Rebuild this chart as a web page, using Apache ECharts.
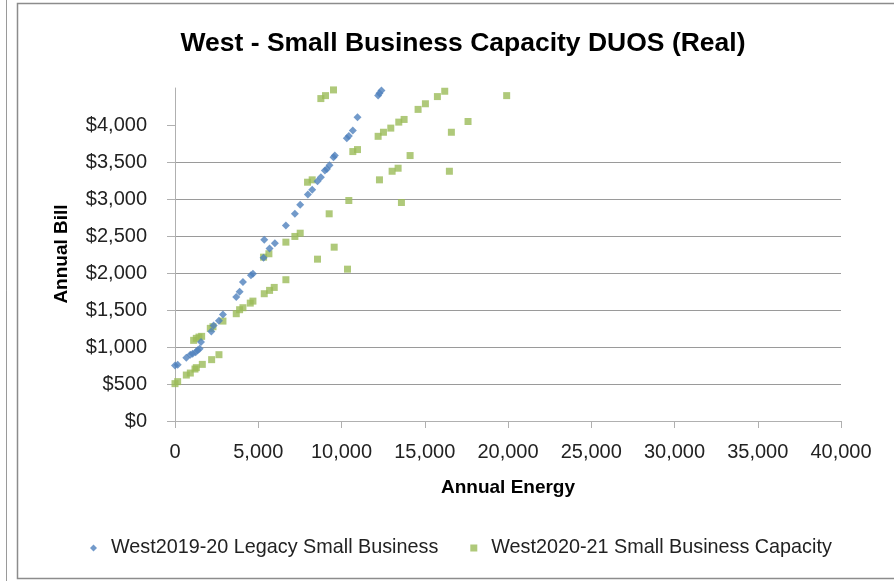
<!DOCTYPE html>
<html><head><meta charset="utf-8">
<script src="https://cdn.jsdelivr.net/npm/echarts@6/dist/echarts.min.js"></script>
<style>html,body{margin:0;padding:0;background:#fff}#c{width:894px;height:581px}</style>
</head><body><div id="c"></div>
<script>
var titleText = 'West - Small Business Capacity DUOS (Real)';
var seriesNames = ['West2019-20 Legacy Small Business', 'West2020-21 Small Business Capacity'];
var yTicks = [0, 500, 1000, 1500, 2000, 2500, 3000, 3500, 4000];
var xTicks = [0, 5000, 10000, 15000, 20000, 25000, 30000, 35000, 40000];

var legacyEnergy = [0,160,680,920,1060,1240,1360,1480,1560,2180,2320,2640,2880,3680,3880,4080,4560,4680,5320,5360,5680,6000,6660,7200,7520,7980,8240,8560,8760,9000,9120,9280,9520,9600,10320,10440,10680,10960,12200,12280,12400,12520];
var legacyBill   = [750,760,856,896,910,930,955,977,1067,1211,1292,1355,1440,1674,1747,1877,1971,1990,2206,2449,2331,2403,2642,2800,2921,3060,3124,3240,3294,3384,3407,3456,3564,3587,3820,3853,3924,4104,4397,4430,4467,4502];

var capacityEnergy = [0,160,680,920,1120,1200,1280,1280,1440,1600,1640,2120,2200,2280,2640,2880,3680,3880,4080,4520,4680,5320,5360,5640,5680,5960,6660,6660,7200,7520,7960,8240,8560,8760,9040,9260,9520,9560,10360,10440,10680,10960,12200,12280,12520,12960,13040,13400,13440,13600,13760,14120,14600,15040,15760,16200,16480,16600,17600,19920];
var capacityBill   = [505,532,621,648,1090,702,721,1117,1134,1144,765,1252,829,1274,896,1350,1450,1504,1531,1593,1620,2214,1720,2260,1765,1805,1909,2417,2494,2538,3227,3259,2187,4357,4397,2800,4474,2349,2052,2980,3641,3668,3847,3259,3902,3958,3375,3416,4039,2953,4075,3587,4211,4287,4384,4456,3375,3902,4047,4397];

function pairs(xs, ys){ return xs.map(function(x,i){ return [x, ys[i]]; }); }
function fmtNum(v){ return v.toString().replace(/\B(?=(\d{3})+(?!\d))/g, ','); }

var FONT = 'Liberation Sans';
var chart = echarts.init(document.getElementById('c'), null, {renderer:'canvas'});
chart.setOption({
  backgroundColor: '#fff',
  animation: false,
  textStyle: {fontFamily: FONT},
  title: {
    text: titleText, left: 458, top: 25, textAlign: 'center',
    textStyle: {fontFamily: FONT, fontWeight: 'bold', fontSize: 26.5, color: '#000'}
  },
  graphic: [
    {type:'rect', shape:{x:6.5, y:-5, width:0, height:600}, style:{fill:'none', stroke:'#9a9a9a', lineWidth:1}},
    {type:'rect', shape:{x:17.5, y:3.5, width:900, height:575}, style:{fill:'none', stroke:'#8c8c8c', lineWidth:1.5}},
    {type:'text', x: 62, y: 254, rotation: Math.PI/2,
     style:{text:'Annual Bill', font:'bold 19px "Liberation Sans"', fill:'#000', align:'center', verticalAlign:'middle'}}
  ],
  legend: {
    bottom: 18, left: 85, itemGap: 32, itemWidth: 7, itemHeight: 7,
    textStyle: {fontFamily: FONT, fontSize: 19.8, color: '#222', padding: [0,0,0,9]},
    data: [
      {name: seriesNames[0], icon: 'diamond', itemStyle:{color:'#4F81BD'}},
      {name: seriesNames[1], icon: 'rect', itemStyle:{color:'#9BBB59'}}
    ]
  },
  grid: {left: 175, right: 53, top: 88, bottom: 160, containLabel: false},
  xAxis: {
    type: 'value', min: 0, max: 40000, interval: 5000,
    name: 'Annual Energy', nameLocation: 'middle', nameGap: 57,
    nameTextStyle: {fontFamily: FONT, fontWeight: 'bold', fontSize: 19, color: '#000'},
    axisLine: {show: true, lineStyle: {color: '#b0b0b0', width: 1}},
    axisTick: {show: true, inside: false, length: 7, lineStyle: {color: '#b0b0b0'}},
    axisLabel: {margin: 21, fontSize: 20, color: '#222', fontFamily: FONT,
      formatter: function(v){ return fmtNum(v); }},
    splitLine: {show: false}
  },
  yAxis: {
    type: 'value', min: 0, max: 4500, interval: 500,
    axisLine: {show: true, lineStyle: {color: '#b0b0b0', width: 1}},
    axisTick: {show: true, inside: false, length: 8, lineStyle: {color: '#b0b0b0'}, customValues: yTicks},
    axisLabel: {margin: 28, fontSize: 20, color: '#222', fontFamily: FONT, customValues: yTicks,
      formatter: function(v){ return '$' + fmtNum(v); }},
    splitLine: {show: true, showMinLine: false, showMaxLine: false, lineStyle: {color: '#9a9a9a', width: 1}}
  },
  series: [
    {name: seriesNames[0], type: 'scatter', symbol: 'diamond', symbolSize: 8,
     itemStyle: {color: '#4F81BD'}, data: pairs(legacyEnergy, legacyBill), z: 3},
    {name: seriesNames[1], type: 'scatter', symbol: 'rect', symbolSize: 7,
     itemStyle: {color: '#9BBB59'}, data: pairs(capacityEnergy, capacityBill), z: 2}
  ]
});
</script></body></html>
